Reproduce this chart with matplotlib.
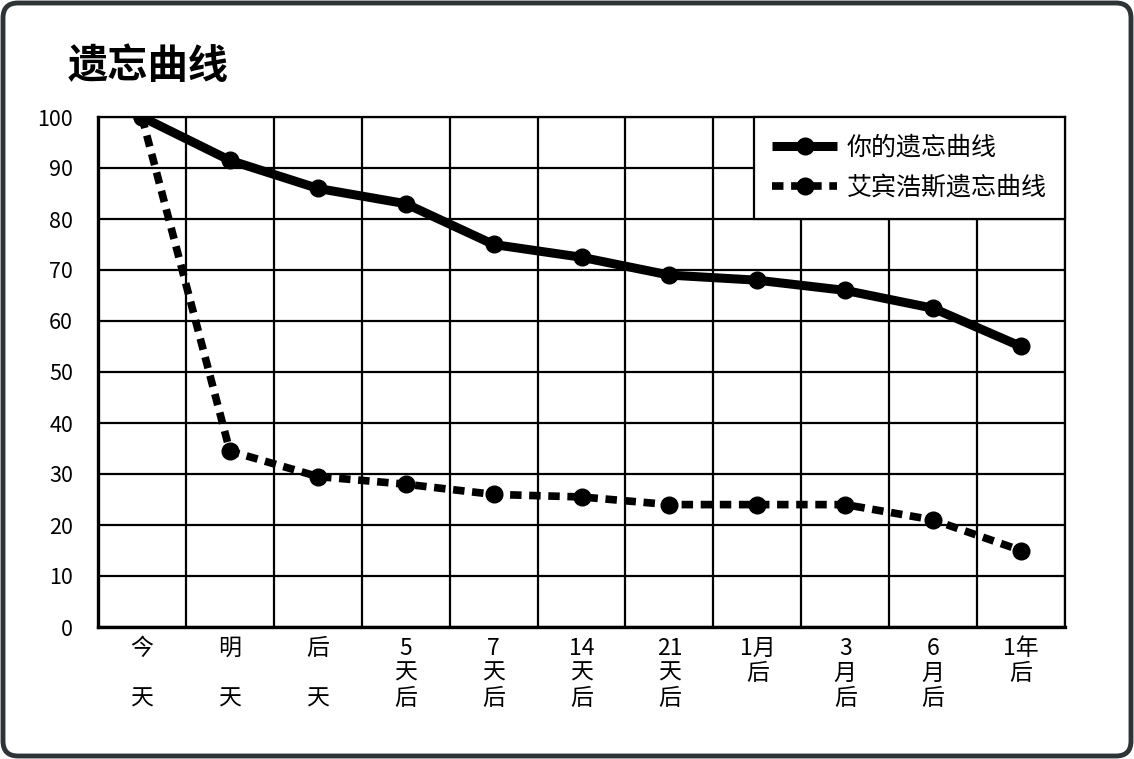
import matplotlib
matplotlib.use('Agg')
import matplotlib.pyplot as plt
from matplotlib.patches import FancyBboxPatch
from matplotlib.ticker import FixedLocator

plt.rcParams['font.family'] = ['Noto Sans CJK SC', 'DejaVu Sans']

labels = ['今\n\n天', '明\n\n天', '后\n\n天', '5\n天\n后', '7\n天\n后', '14\n天\n后',
          '21\n天\n后', '1月\n后', '3\n月\n后', '6\n月\n后', '1年\n后']
yours = [100, 91.5, 86, 83, 75, 72.5, 69, 68, 66, 62.5, 55]
ebbinghaus = [100, 34.5, 29.5, 28, 26, 25.5, 24, 24, 24, 21, 15]
yticks = [0, 10, 20, 30, 40, 50, 60, 70, 80, 90, 100]

fig = plt.figure(figsize=(11.34, 7.59), dpi=100)
ax = fig.add_axes([98 / 1134, 1 - 627 / 759, (1065 - 98) / 1134, (627 - 117) / 759])

x = list(range(len(labels)))
ax.plot(x, yours, color='black', lw=6.5, marker='o', ms=12,
        solid_capstyle='butt', label='你的遗忘曲线', zorder=3)
ax.plot(x, ebbinghaus, color='black', lw=5.5, marker='o', ms=12,
        dashes=(1.5, 1.0), dash_capstyle='butt', label='艾宾浩斯遗忘曲线', zorder=3)

ax.set_xlim(-0.5, 10.5)
ax.set_ylim(0, 100)
ax.set_xticks(x)
ax.set_xticklabels(labels, fontsize=16.5, linespacing=1.12, va='top')
ax.xaxis.set_minor_locator(FixedLocator([i + 0.5 for i in x]))
ax.set_yticks(yticks)
ax.set_yticklabels([str(v) for v in yticks], fontsize=15.5)
ax.tick_params(axis='both', which='both', length=0)
ax.tick_params(axis='x', pad=7)
ax.tick_params(axis='y', pad=18)
ax.grid(axis='y', which='major', color='black', lw=1.6)
ax.grid(axis='x', which='minor', color='black', lw=1.6)
for s in ax.spines.values():
    s.set_color('black')
    s.set_linewidth(1.6)
ax.spines['bottom'].set_linewidth(2.4)
ax.spines['left'].set_linewidth(2.4)

leg = ax.legend(loc='upper right', borderaxespad=0, fontsize=18, handlelength=2.6,
                handletextpad=0.4, frameon=True, fancybox=False, borderpad=0.72,
                labelspacing=0.55, framealpha=1)
leg.get_frame().set_edgecolor('black')
leg.get_frame().set_linewidth(1.6)
leg.set_zorder(5)

fig.text(68 / 1134, 1 - 66 / 759, '遗忘曲线', fontsize=29, fontweight='bold', va='center')

frame = FancyBboxPatch((0.03, 0.03), 11.28, 7.53, boxstyle='round,pad=0,rounding_size=0.15',
                       transform=fig.dpi_scale_trans, fill=False, ec='#2e3436', lw=3.5)
fig.patches.append(frame)

fig.savefig('out.png', dpi=100)
